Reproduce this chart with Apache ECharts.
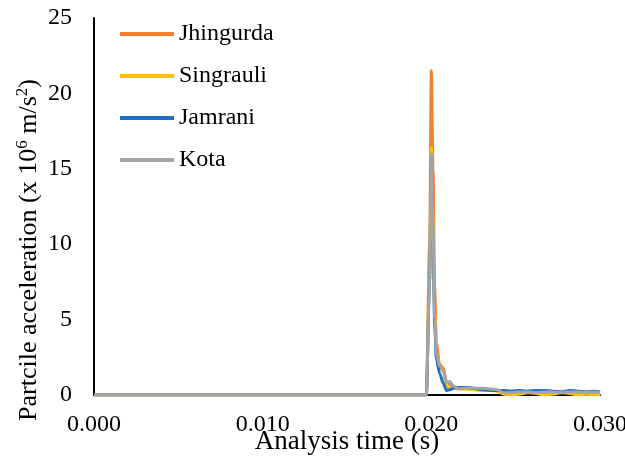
<!DOCTYPE html>
<html><head><meta charset="utf-8">
<script src="https://cdn.jsdelivr.net/npm/echarts@6/dist/echarts.min.js"></script>
<style>html,body{margin:0;padding:0;background:#fff}#c{width:625px;height:457px}</style>
</head><body><div id="c"></div>
<script>
const seriesNames = ['Jhingurda', 'Singrauli', 'Jamrani', 'Kota'];
const timeS = [0, 0.0100, 0.0197, 0.0199, 0.0200, 0.0201, 0.0202, 0.0203, 0.0205, 0.0207, 0.0209, 0.0211, 0.0213, 0.0216, 0.0220, 0.0225, 0.0230, 0.0235, 0.0239, 0.0243, 0.0247, 0.0252, 0.0257, 0.0262, 0.0267, 0.0272, 0.0277, 0.0282, 0.0287, 0.0292, 0.0297, 0.0300];
const jhingurda = [0, 0, 0, 10, 21.5, 15, 7, 3.4, 2.0, 1.8, 0.9, 0.7, 0.55, 0.45, 0.45, 0.4, 0.4, 0.35, 0.3, 0.15, 0.1, 0.15, 0.2, 0.15, 0.1, 0.15, 0.2, 0.15, 0.1, 0.1, 0.05, 0.1];
const singrauli = [0, 0, 0, 8, 16.4, 11.5, 5.5, 2.9, 1.8, 1.6, 0.6, 0.4, 0.45, 0.4, 0.4, 0.35, 0.3, 0.3, 0.25, 0.05, 0.0, 0.05, 0.15, 0.1, 0.0, 0.05, 0.15, 0.1, 0.0, 0.05, 0.0, 0.05];
const jamrani = [0, 0, 0, 7.5, 15.8, 10.5, 4.5, 2.4, 1.4, 0.8, 0.3, 0.35, 0.45, 0.5, 0.5, 0.45, 0.35, 0.3, 0.3, 0.3, 0.25, 0.3, 0.25, 0.3, 0.3, 0.25, 0.2, 0.3, 0.25, 0.2, 0.25, 0.2];
const kota = [0, 0, 0, 7.8, 16.0, 11, 5, 2.7, 1.9, 1.6, 0.85, 0.9, 0.6, 0.4, 0.45, 0.45, 0.45, 0.4, 0.35, 0.15, 0.15, 0.2, 0.2, 0.15, 0.2, 0.2, 0.15, 0.2, 0.2, 0.15, 0.2, 0.15];
const xTicks = [0, 0.01, 0.02, 0.03];
const yTicks = [0, 5, 10, 15, 20, 25];
const colors = ['#F7802E', '#FFC000', '#1E70C8', '#A5A5A5'];

const allValues = [jhingurda, singrauli, jamrani, kota];
const font = '"Liberation Serif", "Times New Roman", serif';
const chart = echarts.init(document.getElementById('c'), null, {renderer: 'canvas'});
chart.setOption({
  animation: false,
  color: colors,
  grid: {left: 94, right: 25, top: 18, bottom: 62, containLabel: false, outerBoundsMode: 'none'},
  legend: {
    orient: 'vertical', left: 120, top: 22, padding: 0, itemWidth: 54, itemHeight: 4, itemGap: 18,
    icon: 'rect',
    data: seriesNames,
    textStyle: {fontFamily: font, fontSize: 24, color: '#000', lineHeight: 24}
  },
  xAxis: {
    type: 'value', min: xTicks[0], max: xTicks[xTicks.length - 1], interval: 0.01,
    name: 'Analysis time (s)', nameLocation: 'middle', nameGap: 33, nameMoveOverlap: false,
    nameTextStyle: {fontFamily: font, fontSize: 27, color: '#000'},
    axisLine: {lineStyle: {color: '#000', width: 2}},
    axisTick: {show: false}, splitLine: {show: false},
    axisLabel: {fontFamily: font, fontSize: 24, color: '#000', margin: 18, formatter: v => v.toFixed(3)}
  },
  yAxis: {
    type: 'value', min: yTicks[0], max: yTicks[yTicks.length - 1], interval: 5,
    axisLine: {show: true, lineStyle: {color: '#000', width: 2}},
    axisTick: {show: false}, splitLine: {show: false},
    axisLabel: {fontFamily: font, fontSize: 24, color: '#000', margin: 22}
  },
  graphic: [{
    type: 'text', x: 28, y: 250, rotation: Math.PI / 2,
    style: {
      text: '{a|Partcile acceleration (x 10}{s|6}{a| m/s}{s|2}{a|)}',
      align: 'center', verticalAlign: 'middle',
      rich: {
        a: {fontFamily: font, fontSize: 26, fill: '#000', lineHeight: 28, verticalAlign: 'bottom'},
        s: {fontFamily: font, fontSize: 17, fill: '#000', lineHeight: 28, verticalAlign: 'top', padding: [0, 0, 4, 0]}
      }
    }
  }],
  series: seriesNames.map((n, i) => ({
    name: n, type: 'line', showSymbol: false, smooth: 0.3, smoothMonotone: 'x',
    lineStyle: {width: 3, color: colors[i]},
    data: timeS.map((t, k) => [t, allValues[i][k]])
  }))
});
</script></body></html>
